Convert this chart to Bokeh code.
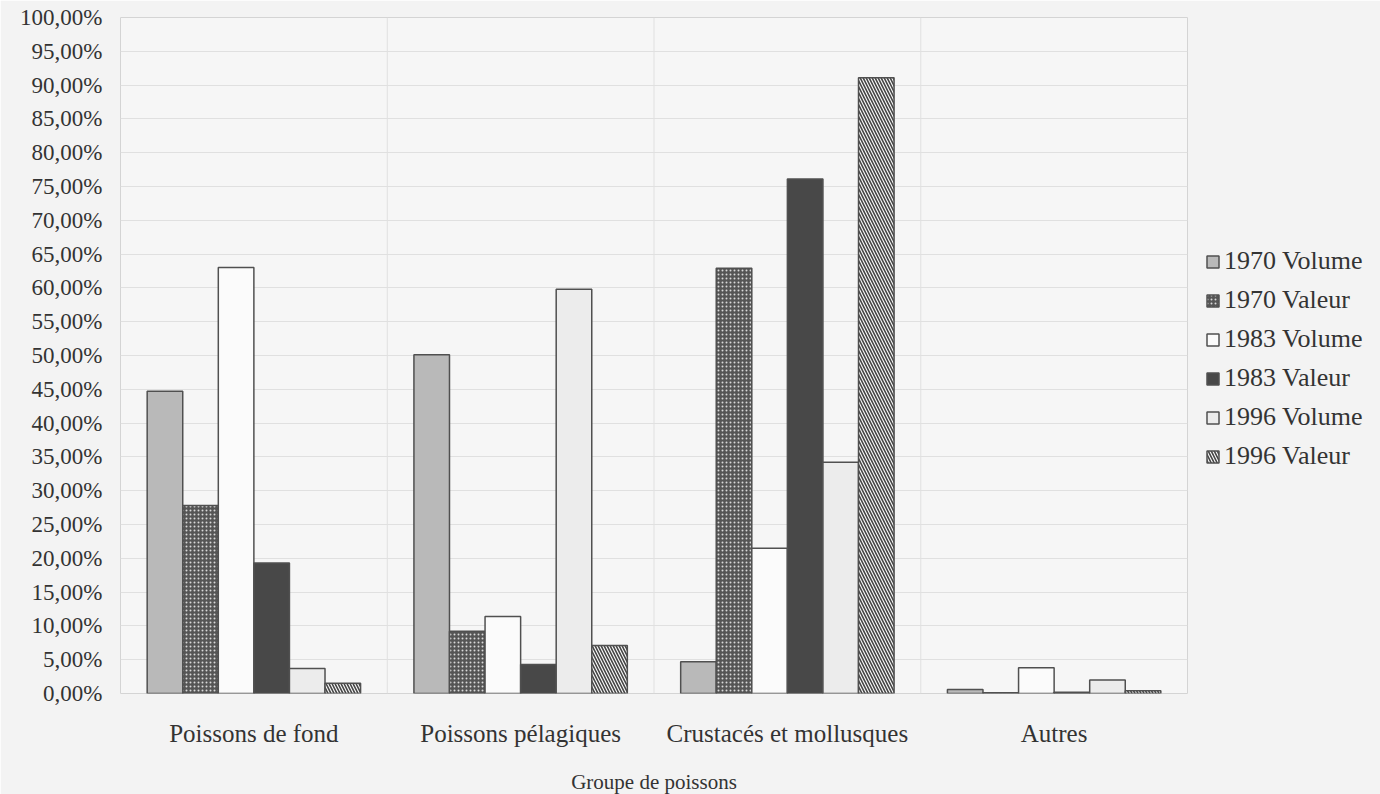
from bokeh.plotting import figure
from bokeh.models import ColumnDataSource, FactorRange, FixedTicker, Legend, LegendItem, Span
from bokeh.transform import dodge
from bokeh.embed import file_html
from bokeh.resources import INLINE

categories = ["Poissons de fond", "Poissons pélagiques", "Crustacés et mollusques", "Autres"]
series = ["1970 Volume", "1970 Valeur", "1983 Volume", "1983 Valeur", "1996 Volume", "1996 Valeur"]
v1970_volume = [44.7, 50.1, 4.7, 0.6]
v1970_valeur = [27.8, 9.2, 62.9, 0.1]
v1983_volume = [63.0, 11.4, 21.5, 3.8]
v1983_valeur = [19.3, 4.3, 76.1, 0.2]
v1996_volume = [3.7, 59.8, 34.2, 2.0]
v1996_valeur = [1.5, 7.1, 91.1, 0.4]
y_ticks = list(range(0, 101, 5))

FONT = "Liberation Serif"
BG = "#f3f3f3"

src = ColumnDataSource(dict(cat=categories,
                            s0=v1970_volume, s1=v1970_valeur, s2=v1983_volume,
                            s3=v1983_valeur, s4=v1996_volume, s5=v1996_valeur))

p = figure(frame_width=1067, frame_height=676, x_range=FactorRange(*categories, range_padding=0),
           y_range=(0, 100), output_backend="svg", toolbar_location=None,
           min_border_left=120, min_border_top=17, min_border_bottom=20, min_border_right=185)
p.background_fill_color = "#f6f6f6"
p.border_fill_color = BG
p.outline_line_color = "#d4d4d4"

styles = [
    dict(fill_color="#b9b9b9"),
    dict(fill_color="#555555", hatch_pattern="dot", hatch_color="#d8d8d8", hatch_scale=4, hatch_weight=1.2),
    dict(fill_color="#fbfbfb"),
    dict(fill_color="#484848"),
    dict(fill_color="#ececec"),
    dict(fill_color="#f8f8f8", hatch_pattern="left_diagonal_line", hatch_color="#444444", hatch_scale=6, hatch_weight=1.6),
]
w = 0.8 / 6
items = []
for i, (name, st) in enumerate(zip(series, styles)):
    off = -0.4 + w * (i + 0.5)
    r = p.vbar(x=dodge("cat", off, range=p.x_range), top="s%d" % i, width=w, source=src,
               line_color="#505050", line_width=1.5, **st)
    items.append(LegendItem(label=name, renderers=[r]))

for loc in [1, 2, 3]:
    p.add_layout(Span(location=loc, dimension="height", line_color="#e0e0e0", line_width=1))

p.xgrid.grid_line_color = None
p.ygrid.grid_line_color = "#e0e0e0"
p.yaxis.ticker = FixedTicker(ticks=y_ticks)
p.yaxis.major_label_overrides = {t: f"{t},00%" for t in y_ticks}

for ax in (p.xaxis[0], p.yaxis[0]):
    ax.axis_line_color = None
    ax.major_tick_line_color = None
    ax.minor_tick_line_color = None
    ax.major_tick_out = 0
    ax.major_tick_in = 0
    ax.major_label_text_font = FONT
    ax.major_label_text_color = "#333333"
p.yaxis.major_label_text_font_size = "23px"
p.xaxis.major_label_text_font_size = "25px"
p.yaxis.major_label_standoff = 18
p.xaxis.major_label_standoff = 26
p.xaxis.axis_label = "Groupe de poissons"
p.xaxis.axis_label_text_font = FONT
p.xaxis.axis_label_text_font_style = "normal"
p.xaxis.axis_label_text_font_size = "21px"
p.xaxis.axis_label_text_color = "#333333"
p.xaxis.axis_label_standoff = 20

legend = Legend(items=items, location=(18, 222), background_fill_alpha=0, border_line_color=None,
                label_text_font=FONT, label_text_font_size="26px", label_text_color="#333333",
                glyph_width=15, glyph_height=15, spacing=9, label_standoff=4, margin=0, padding=0)
p.add_layout(legend, "right")

open("out.html", "w").write(file_html(p, INLINE))
